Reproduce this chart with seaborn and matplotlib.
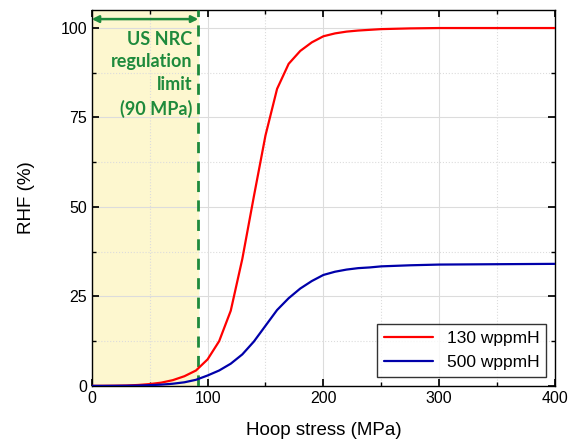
import pandas as pd
import matplotlib
matplotlib.use("Agg")
import matplotlib.pyplot as plt
import seaborn as sns
from matplotlib.ticker import MultipleLocator

sns.set_theme(style="white")
plt.rcParams['font.family'] = ['Liberation Sans', 'DejaVu Sans']

# data
stress = [0, 10, 20, 30, 40, 50, 60, 70, 80, 90, 100, 110, 120, 130, 140, 150,
          160, 170, 180, 190, 200, 210, 220, 230, 240, 250, 275, 300, 350, 400]
rhf_130 = [0, 0.02, 0.05, 0.1, 0.25, 0.5, 0.9, 1.6, 2.7, 4.3, 7.4, 12.5, 21, 35.5, 53,
           70, 83, 90, 93.6, 96, 97.7, 98.5, 99, 99.3, 99.5, 99.7, 99.9, 100, 100, 100]
rhf_500 = [0, 0, 0.02, 0.05, 0.1, 0.2, 0.35, 0.6, 1.0, 1.7, 2.9, 4.3, 6.2, 8.8, 12.4,
           16.8, 21.2, 24.5, 27.2, 29.3, 31, 31.9, 32.5, 32.9, 33.1, 33.4, 33.7, 33.9, 34, 34.1]
labels = ['130 wppmH', '500 wppmH']
colors = ['#ff0000', '#0000aa']
limit = 92

df = pd.DataFrame({'stress': stress * 2,
                   'rhf': rhf_130 + rhf_500,
                   'series': [labels[0]] * len(stress) + [labels[1]] * len(stress)})

fig = plt.figure(figsize=(5.77, 4.41), dpi=100)
ax = fig.add_axes([0.159, 0.125, 0.803, 0.852])

# regulation region
ax.axvspan(0, limit, color='#fdf7cf', zorder=0)
ax.axvline(limit, color='#1e8a3c', ls=(0, (4, 3)), lw=2, zorder=3)
ax.annotate('', xy=(0, 102.5), xytext=(limit, 102.5),
            arrowprops=dict(arrowstyle='<|-|>', color='#1e8a3c', lw=1.8,
                            mutation_scale=10, shrinkA=0, shrinkB=0))
ax.text(limit - 5, 99.3, 'US NRC\nregulation\nlimit\n(90 MPa)', ha='right', va='top',
        color='#1e8a3c', fontsize=13, fontweight='bold', linespacing=1.42,
        family=['Lato', 'DejaVu Sans'], zorder=4)

sns.lineplot(data=df, x='stress', y='rhf', hue='series', palette=colors,
             lw=1.6, ax=ax, zorder=5)

ax.set_xlim(0, 400)
ax.set_ylim(0, 105)
ax.xaxis.set_major_locator(MultipleLocator(100))
ax.xaxis.set_minor_locator(MultipleLocator(50))
ax.yaxis.set_major_locator(MultipleLocator(25))
ax.yaxis.set_minor_locator(MultipleLocator(12.5))
ax.grid(which='major', color='#dcdcdc', lw=0.8, zorder=1)
ax.grid(which='minor', color='#dcdcdc', lw=0.8, ls=':', zorder=1)
ax.set_axisbelow(True)
ax.tick_params(which='both', direction='in', top=True, right=True,
               colors='black', labelsize=11.5, bottom=True, left=True)
ax.tick_params(which='major', length=5)
ax.tick_params(which='minor', length=3)
for s in ax.spines.values():
    s.set_color('black')
    s.set_linewidth(1)

ax.set_xlabel('Hoop stress (MPa)', fontsize=13.5, color='black', labelpad=12)
ax.set_ylabel('RHF (%)', fontsize=13.5, color='black', labelpad=18)

leg = ax.legend(loc='lower right', fontsize=12.5, frameon=True, fancybox=False,
                edgecolor='black', handlelength=2.8, borderaxespad=0.5)
leg.get_frame().set_linewidth(1)
for t in leg.get_texts():
    t.set_color('black')

fig.savefig('out.png', dpi=100)
